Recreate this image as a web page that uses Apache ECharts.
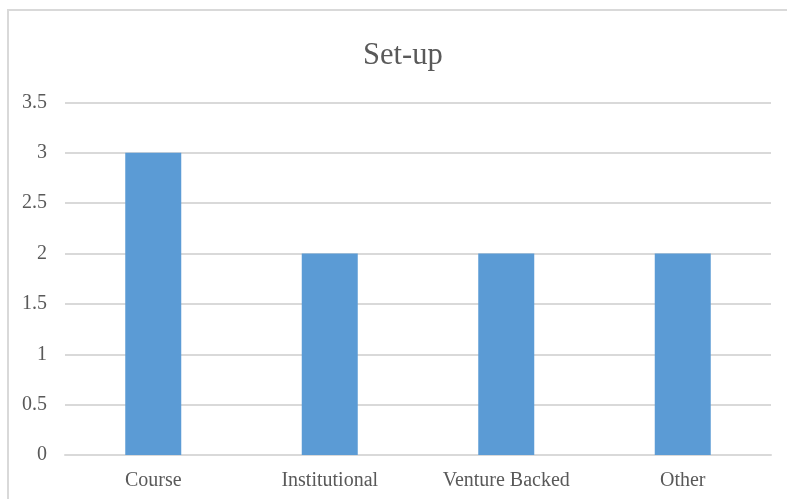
<!DOCTYPE html>
<html>
<head>
<meta charset="utf-8">
<script src="https://cdn.jsdelivr.net/npm/echarts@6/dist/echarts.min.js"></script>
<style>
html,body{margin:0;padding:0;background:#fff;}
#chart{width:787px;height:499px;}
</style>
</head>
<body>
<div id="chart"></div>
<script>
const titleText = "Set-up";
const categories = ["Course", "Institutional", "Venture Backed", "Other"];
const values = [3, 2, 2, 2];
const yTicks = { min: 0, max: 3.5, interval: 0.5 };

const chart = echarts.init(document.getElementById('chart'), null, { renderer: 'canvas' });
const font = '"Liberation Serif", "Times New Roman", serif';
chart.setOption({
  backgroundColor: '#ffffff',
  animation: false,
  title: {
    text: titleText,
    left: 358,
    top: 35,
    textStyle: { fontFamily: font, fontSize: 30.5, fontWeight: 'normal', color: '#595959' }
  },
  graphic: [{
    type: 'rect',
    shape: { x: 8, y: 10, width: 820, height: 520 },
    style: { fill: 'none', stroke: '#d9d9d9', lineWidth: 2 },
    silent: true, z: -1
  }],
  grid: { left: 65, right: 16, top: 102.5, bottom: 44 },
  xAxis: {
    type: 'category',
    data: categories,
    axisLine: { lineStyle: { color: '#d9d9d9', width: 2 } },
    axisTick: { show: false },
    axisLabel: { fontFamily: font, fontSize: 20, color: '#595959', margin: 16 }
  },
  yAxis: {
    type: 'value',
    min: yTicks.min, max: yTicks.max, interval: yTicks.interval,
    axisLine: { show: false },
    axisTick: { show: false },
    splitLine: { lineStyle: { color: '#d9d9d9', width: 2 } },
    axisLabel: { fontFamily: font, fontSize: 20, color: '#595959', margin: 18, verticalAlign: 'middle', padding: [3, 0, 0, 0] }
  },
  series: [{
    type: 'bar',
    data: values,
    barWidth: 56,
    itemStyle: { color: '#5b9bd5' }
  }]
});
</script>
</body>
</html>
